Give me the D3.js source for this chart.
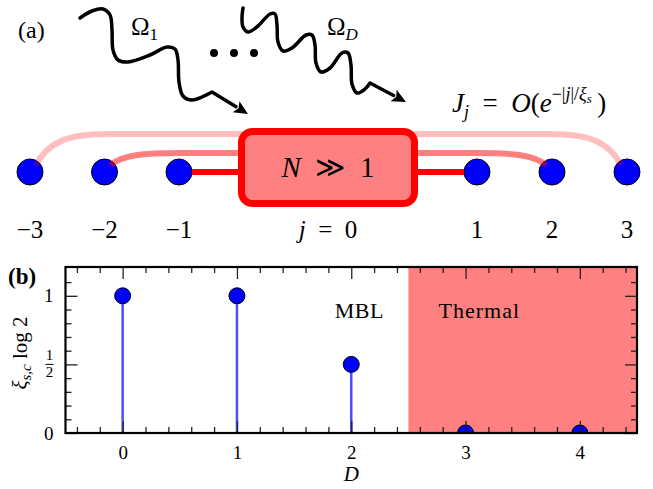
<!DOCTYPE html>
<html>
<head>
<meta charset="utf-8">
<script src="https://cdn.jsdelivr.net/npm/d3@7"></script>
<style>
  body { margin: 0; background: #fff; }
  svg { display: block; font-family: "Liberation Serif", "Times New Roman", serif; }
</style>
</head>
<body>
<svg id="fig" width="653" height="489"></svg>
<script>
// ---- data ----
// panel (a): lattice sites coupled to the central cluster j = 0
const sites = [-3, -2, -1, 1, 2, 3];
const siteLabels = ["\u22123", "\u22122", "\u22121", "1", "2", "3"];
// panel (b): critical localisation length per number of drives D
const D = [0, 1, 2, 3, 4];
const xiCrit = [1, 1, 0.5, 0, 0];
const phaseBoundary = 2.5;
const xTickValues = [0, 1, 2, 3, 4];
const yTickValues = [0, 0.5, 1];

const svg = d3.select("#fig");

// ================= panel (a) =================
// piecewise scale, leaves room for the big box at j = 0
const xs = d3.scaleLinear().domain([-3, -1, 1, 3]).range([30, 179, 477, 627]);
const nodeY = 172, nodeR = 13;
const cx0 = xs(0);
const box = {w: 173, h: 72, cy: 167.5};
// height of the coupling line per distance |j|
const levelY = {1: nodeY, 2: 153, 3: 134};
const lineAlpha = {1: 1, 2: 0.5, 3: 0.25};

svg.append("text").attr("x", 18).attr("y", 38).attr("font-size", 24).text("(a)");

// wavy drive arrows (illustration geometry)
const wave1 = [[80,18],[92,11],[103,9],[110,15],[112,30],[113,50],[118,60],[128,62],[150,55],[167,47],
  [175,49],[178,60],[179,82],[183,96],[192,100],[212,92]];
const wave2 = [[243,8],[242,18],[243,27],[248,32],[258,26],[270,14],[275,14],[277,25],[278,42],[283,51],
  [292,48],[306,35],[312,35],[315,45],[316,63],[321,72],[330,68],[342,53],[348,53],[351,65],[352,84],
  [357,93],[365,89],[370,83]];
const tips = [[248, 114], [406, 102]];
const waveLine = d3.line().curve(d3.curveCatmullRom.alpha(0.5));

[wave1, wave2].forEach((w, i) => {
  const last = w[w.length - 1], tip = tips[i];
  const ang = Math.atan2(tip[1] - last[1], tip[0] - last[0]);
  const headLen = 14, headW = 6.5;
  const base = [tip[0] - headLen * Math.cos(ang), tip[1] - headLen * Math.sin(ang)];
  svg.append("path")
    .attr("d", waveLine(w) + `L${base[0]},${base[1]}`)
    .attr("fill", "none").attr("stroke", "#000").attr("stroke-width", 3.5)
    .attr("stroke-linecap", "round").attr("stroke-linejoin", "round");
  const nx = -Math.sin(ang), ny = Math.cos(ang);
  svg.append("path")
    .attr("d", `M${tip[0]},${tip[1]}L${base[0] + headW * nx},${base[1] + headW * ny}` +
               `L${base[0] + 3 * Math.cos(ang)},${base[1] + 3 * Math.sin(ang)}` +
               `L${base[0] - headW * nx},${base[1] - headW * ny}Z`)
    .attr("fill", "#000");
});

// dots between the drives
svg.append("g").selectAll("circle").data([214, 234, 254]).join("circle")
  .attr("cx", d => d).attr("cy", 53).attr("r", 4).attr("fill", "#000");

// drive labels
function omega(x, sub, subItalic) {
  const t = svg.append("text").attr("x", x).attr("y", 35).attr("font-size", 25);
  t.append("tspan").text("\u03A9");
  t.append("tspan").attr("font-size", 17).attr("dy", 5)
    .attr("font-style", subItalic ? "italic" : "normal").text(sub);
}
omega(131, "1", false);
omega(327, "D", true);

// coupling label
const jl = svg.append("text").attr("x", 452).attr("y", 112).attr("font-size", 27);
jl.append("tspan").attr("font-style", "italic").text("J");
jl.append("tspan").attr("font-style", "italic").attr("font-size", 18).attr("dy", 6).text("j");
jl.append("tspan").attr("dy", -6).text("\u2002=\u2002");
jl.append("tspan").attr("font-style", "italic").text("O");
jl.append("tspan").text("(");
jl.append("tspan").attr("font-style", "italic").text("e");
jl.append("tspan").attr("font-size", 18).attr("dy", -12).text("\u2212|");
jl.append("tspan").attr("font-size", 18).attr("font-style", "italic").text("j");
jl.append("tspan").attr("font-size", 18).text("|/");
jl.append("tspan").attr("font-size", 18).attr("font-style", "italic").text("\u03BE");
jl.append("tspan").attr("font-size", 13).attr("font-style", "italic").attr("dy", 3).text("s");
jl.append("tspan").attr("dy", 9).text("\u2009)");

// couplings: straight for |j| = 1, curved above for the rest
function couplingPath(j) {
  const a = Math.abs(j);
  const t = j < 0 ? 1 : -1;               // direction towards the box
  const px = xs(j), ly = levelY[a];
  const boxEdge = cx0 - t * (box.w / 2 - 2);
  if (a === 1) {
    return `M${px + t * nodeR},${nodeY}L${boxEdge},${nodeY}`;
  }
  const p0x = px + t * 6, p0y = nodeY - 7;
  const c1y = a === 3 ? ly + 8 : ly + 2;
  // rise from the node, then run flat into the box
  return `M${p0x},${p0y}C${p0x + t * 12},${c1y} ${p0x + t * 32},${ly} ${p0x + t * 70},${ly}L${boxEdge},${ly}`;
}

svg.append("g").selectAll("circle").data(sites).join("circle")
  .attr("cx", d => xs(d)).attr("cy", nodeY).attr("r", nodeR)
  .attr("fill", "#0000ff").attr("stroke", "#000").attr("stroke-width", 1);

// lines drawn over the nodes (translucent, as in the original)
svg.append("g").selectAll("path").data(sites).join("path")
  .attr("d", d => couplingPath(d))
  .attr("fill", "none")
  .attr("stroke", "#ff0000")
  .attr("stroke-opacity", d => lineAlpha[Math.abs(d)])
  .attr("stroke-width", 6);

// central cluster
svg.append("rect")
  .attr("x", cx0 - box.w / 2).attr("y", box.cy - box.h / 2)
  .attr("width", box.w).attr("height", box.h).attr("rx", 11)
  .attr("fill", "#ff8080").attr("stroke", "#ff0000").attr("stroke-width", 7);
const nt = svg.append("text").attr("x", cx0).attr("y", 177).attr("font-size", 29)
  .attr("text-anchor", "middle");
nt.append("tspan").attr("font-style", "italic").text("N");
nt.append("tspan").text("\u2002\u226B\u20021");

// site labels
svg.append("g").selectAll("text").data(sites).join("text")
  .attr("x", d => xs(d)).attr("y", 238).attr("font-size", 25).attr("text-anchor", "middle")
  .text((d, i) => siteLabels[i]);
const j0 = svg.append("text").attr("x", cx0).attr("y", 238).attr("font-size", 25)
  .attr("text-anchor", "middle");
j0.append("tspan").attr("font-style", "italic").text("j");
j0.append("tspan").text("\u2002=\u20020");

// ================= panel (b) =================
const m = {left: 65.5, right: 637, top: 267, bottom: 433};
const x = d3.scaleLinear().domain([-0.5, 4.5]).range([m.left, m.right]);
const y = d3.scaleLinear().domain([0, 1.21]).range([m.bottom, m.top]);

svg.append("defs").append("clipPath").attr("id", "plot")
  .append("rect").attr("x", m.left).attr("y", m.top)
  .attr("width", m.right - m.left).attr("height", m.bottom - m.top);

const gb = svg.append("g");
gb.append("rect")
  .attr("x", x(phaseBoundary)).attr("y", m.top)
  .attr("width", x(4.5) - x(phaseBoundary)).attr("height", m.bottom - m.top)
  .attr("fill", "#ff8080");

const pts = D.map((d, i) => ({d, v: xiCrit[i]}));
gb.append("g").selectAll("line").data(pts).join("line")
  .attr("x1", p => x(p.d)).attr("x2", p => x(p.d))
  .attr("y1", y(0)).attr("y2", p => y(p.v))
  .attr("stroke", "#4d4dff").attr("stroke-width", 2.5);
gb.append("g").attr("clip-path", "url(#plot)")
  .selectAll("circle").data(pts).join("circle")
  .attr("cx", p => x(p.d)).attr("cy", p => y(p.v)).attr("r", 8)
  .attr("fill", "#0000ff").attr("stroke", "#000").attr("stroke-width", 1);

// ticks, all pointing inwards
const xMinor = x.ticks(25).filter(t => Math.abs(t - Math.round(t)) > 1e-6);
const yMinor = y.ticks(12).filter(t => t < 1.15 && Math.abs(t * 2 - Math.round(t * 2)) > 1e-6);
function tickStyle(g) {
  g.attr("font-family", null).attr("font-size", null);
  g.select(".domain").remove();
  g.selectAll(".tick line").attr("stroke", "#222").attr("stroke-width", 1.3);
  g.selectAll("text").attr("font-size", 19).attr("fill", "#000");
}
// bottom
gb.append("g").attr("transform", `translate(0,${m.bottom})`)
  .call(d3.axisBottom(x).tickValues(xMinor).tickSize(-6).tickFormat("")).call(tickStyle);
gb.append("g").attr("transform", `translate(0,${m.bottom})`)
  .call(d3.axisBottom(x).tickValues(xTickValues).tickSize(-12).tickPadding(13).tickFormat(d3.format("d")))
  .call(tickStyle);
// top
gb.append("g").attr("transform", `translate(0,${m.top})`)
  .call(d3.axisTop(x).tickValues(xMinor).tickSize(-6).tickFormat("")).call(tickStyle);
gb.append("g").attr("transform", `translate(0,${m.top})`)
  .call(d3.axisTop(x).tickValues(xTickValues).tickSize(-12).tickFormat("")).call(tickStyle);
// left
gb.append("g").attr("transform", `translate(${m.left},0)`)
  .call(d3.axisLeft(y).tickValues(yMinor).tickSize(-6).tickFormat("")).call(tickStyle);
gb.append("g").attr("transform", `translate(${m.left},0)`)
  .call(d3.axisLeft(y).tickValues(yTickValues).tickSize(-12).tickPadding(12)
    .tickFormat(t => t === 0.5 ? "" : d3.format("d")(t)))
  .call(tickStyle);
// right
gb.append("g").attr("transform", `translate(${m.right},0)`)
  .call(d3.axisRight(y).tickValues(yMinor).tickSize(-6).tickFormat("")).call(tickStyle);
gb.append("g").attr("transform", `translate(${m.right},0)`)
  .call(d3.axisRight(y).tickValues(yTickValues).tickSize(-12).tickFormat("")).call(tickStyle);

// the 1/2 label as a small stacked fraction
const fr = gb.append("g").attr("transform", `translate(49.5,${y(0.5)})`).attr("font-size", 15)
  .attr("text-anchor", "middle");
fr.append("text").attr("y", -4).text("1");
fr.append("line").attr("x1", -4).attr("x2", 4).attr("y1", 0).attr("y2", 0)
  .attr("stroke", "#000").attr("stroke-width", 1);
fr.append("text").attr("y", 13).text("2");

// frame
gb.append("rect").attr("x", m.left).attr("y", m.top)
  .attr("width", m.right - m.left).attr("height", m.bottom - m.top)
  .attr("fill", "none").attr("stroke", "#000").attr("stroke-width", 2.2);

// phase labels
gb.append("text").attr("x", x(2.07)).attr("y", y(0.84)).attr("font-size", 22)
  .attr("text-anchor", "middle").attr("letter-spacing", 0.5).text("MBL");
gb.append("text").attr("x", x(3.12)).attr("y", y(0.84)).attr("font-size", 22)
  .attr("text-anchor", "middle").attr("letter-spacing", 1).text("Thermal");

// axis titles
svg.append("text").attr("x", x(2)).attr("y", 481).attr("font-size", 21)
  .attr("text-anchor", "middle").attr("font-style", "italic").text("D");
const yl = svg.append("text").attr("transform", "translate(27,353) rotate(-90)")
  .attr("font-size", 21).attr("text-anchor", "middle");
yl.append("tspan").attr("font-style", "italic").text("\u03BE");
yl.append("tspan").attr("font-style", "italic").attr("font-size", 15).attr("dy", 4).text("s,c");
yl.append("tspan").attr("dy", -4).text(" log 2");

svg.append("text").attr("x", 8).attr("y", 284).attr("font-size", 23)
  .attr("font-weight", "bold").text("(b)");
</script>
</body>
</html>
